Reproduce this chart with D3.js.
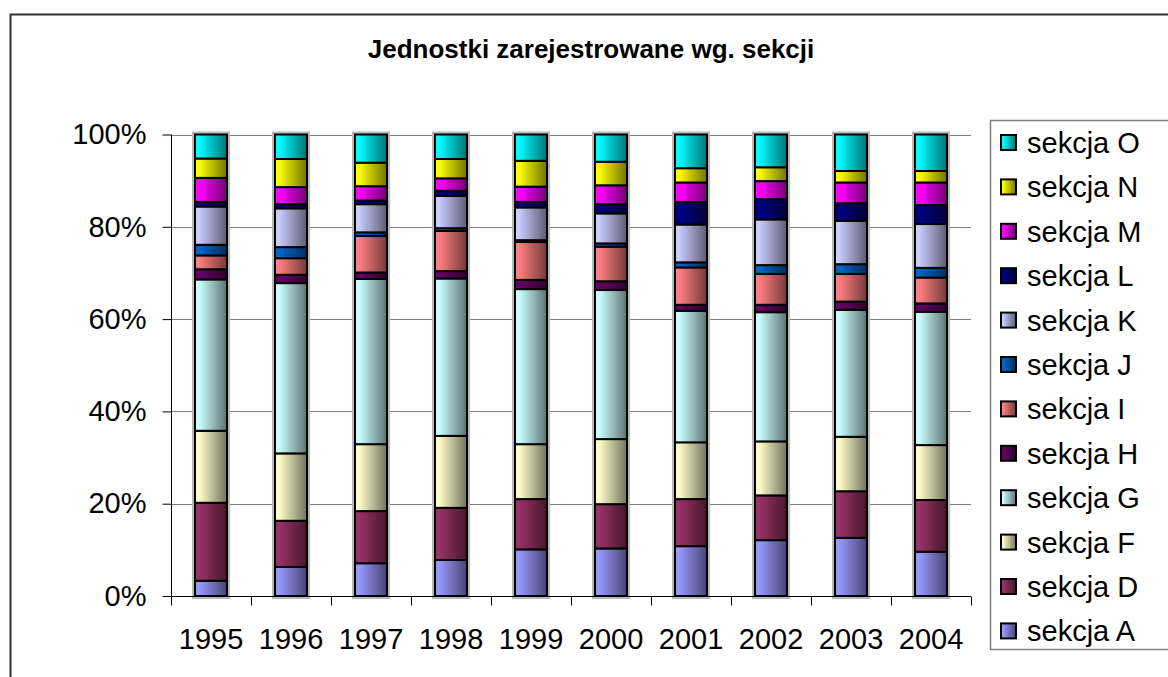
<!DOCTYPE html>
<html>
<head>
<meta charset="utf-8">
<script src="https://cdn.jsdelivr.net/npm/d3@7"></script>
<style>
    body { margin: 0; background: #fff; }
    text { font-family: "Liberation Sans", Arial, sans-serif; }
</style>
</head>
<body>
<div id="chart"></div>
<script>
var years = ["1995", "1996", "1997", "1998", "1999", "2000", "2001", "2002", "2003", "2004"];
var seriesNames = ["sekcja A", "sekcja D", "sekcja F", "sekcja G", "sekcja H", "sekcja I",
    "sekcja J", "sekcja K", "sekcja L", "sekcja M", "sekcja N", "sekcja O"];
var seriesColors = ["#9999FF", "#993366", "#FFFFCC", "#CCFFFF", "#660066", "#FF8080",
    "#0066CC", "#CCCCFF", "#000080", "#FF00FF", "#FFFF00", "#00FFFF"];

// udzialy w %
var sekcjaA = [3.3, 6.3, 7.1, 7.8, 10.1, 10.3, 10.8, 12.1, 12.6, 9.6];
var sekcjaD = [16.9, 10.0, 11.3, 11.3, 10.9, 9.6, 10.2, 9.7, 10.1, 11.2];
var sekcjaF = [15.6, 14.6, 14.5, 15.6, 11.9, 14.1, 12.3, 11.7, 11.8, 11.9];
var sekcjaG = [32.8, 36.9, 35.8, 34.1, 33.6, 32.3, 28.5, 28.0, 27.5, 28.9];
var sekcjaH = [2.2, 1.8, 1.4, 1.6, 2.0, 1.9, 1.3, 1.6, 1.8, 1.8];
var sekcjaI = [3.0, 3.6, 7.9, 8.7, 8.2, 7.5, 8.1, 6.7, 6.0, 5.6];
var sekcjaJ = [2.3, 2.4, 0.8, 0.6, 0.4, 0.7, 1.1, 1.9, 2.1, 2.1];
var sekcjaK = [8.3, 8.4, 6.1, 7.0, 7.1, 6.5, 8.2, 9.9, 9.4, 9.5];
var sekcjaL = [1.0, 0.9, 0.8, 1.1, 1.2, 2.0, 4.9, 4.4, 3.8, 4.1];
var sekcjaM = [5.2, 3.7, 3.1, 2.7, 3.3, 4.1, 4.2, 3.9, 4.5, 4.9];
var sekcjaN = [4.2, 6.1, 5.1, 4.2, 5.6, 5.1, 3.1, 3.0, 2.5, 2.5];
var sekcjaO = [5.2, 5.3, 6.1, 5.3, 5.7, 5.9, 7.3, 7.1, 7.9, 7.9];

var yTicks = [0, 0.2, 0.4, 0.6, 0.8, 1];

var WIDTH = 1168, HEIGHT = 677;
var seriesValues = [sekcjaA, sekcjaD, sekcjaF, sekcjaG, sekcjaH, sekcjaI,
    sekcjaJ, sekcjaK, sekcjaL, sekcjaM, sekcjaN, sekcjaO];

var rows = years.map(function (y, i) {
    var row = { year: y };
    seriesNames.forEach(function (name, s) {
        row[name] = seriesValues[s][i];
    });
    return row;
});

var stacked = d3.stack()
    .keys(seriesNames)
    .offset(d3.stackOffsetExpand)(rows);

var svg = d3.select("#chart").append("svg")
    .attr("width", WIDTH)
    .attr("height", HEIGHT);

// gradienty jak w Excelu (jasno z lewej, ciemno z prawej)
var defs = svg.append("defs");
seriesColors.forEach(function (c, i) {
    var g = defs.append("linearGradient")
        .attr("id", "grad" + i)
        .attr("x1", 0).attr("x2", 1).attr("y1", 0).attr("y2", 0);
    var dark = d3.rgb(c);
    dark = d3.rgb(dark.r * 0.45, dark.g * 0.45, dark.b * 0.45);
    g.append("stop").attr("offset", "0%").attr("stop-color", c);
    g.append("stop").attr("offset", "12%").attr("stop-color", c);
    g.append("stop").attr("offset", "100%").attr("stop-color", dark);
});

// ramka wykresu
svg.append("rect")
    .attr("x", 10.5).attr("y", 14.5)
    .attr("width", 1200).attr("height", 700)
    .attr("fill", "#fff")
    .attr("stroke", "#333")
    .attr("stroke-width", 2);

svg.append("text")
    .attr("x", 591)
    .attr("y", 58)
    .attr("text-anchor", "middle")
    .style("font-size", "26px")
    .style("font-weight", "bold")
    .text("Jednostki zarejestrowane wg. sekcji");

var x = d3.scaleBand()
    .domain(years)
    .range([171, 971])
    .paddingInner(0.6)
    .paddingOuter(0.3);

var y = d3.scaleLinear()
    .domain([0, 1])
    .range([596, 134.5]);

// linie siatki
svg.append("g")
    .selectAll("line")
    .data(yTicks.slice(1))
    .enter().append("line")
    .attr("x1", 171).attr("x2", 971)
    .attr("y1", function (d) { return Math.round(y(d)) + 0.5; })
    .attr("y2", function (d) { return Math.round(y(d)) + 0.5; })
    .attr("stroke", "#808080")
    .attr("stroke-width", 1);

var yAxis = svg.append("g")
    .attr("transform", "translate(171.5,0)")
    .call(d3.axisLeft(y)
        .tickValues(yTicks)
        .tickFormat(d3.format(".0%"))
        .tickSize(9)
        .tickPadding(16));
yAxis.selectAll("text").style("font-size", "29px").attr("fill", "#000");
yAxis.selectAll("line, path").attr("stroke", "#000");
yAxis.select(".domain").attr("d", "M0," + y(1) + "V" + y(0));

// obramowanie slupkow
svg.append("g")
    .selectAll("rect")
    .data(years)
    .enter().append("rect")
    .attr("x", function (d) { return x(d) - 1; })
    .attr("y", y(1) - 1)
    .attr("width", x.bandwidth() + 2)
    .attr("height", y(0) - y(1) + 2)
    .attr("fill", "none")
    .attr("stroke", "#b8b8b8")
    .attr("stroke-width", 4);

var layers = svg.append("g")
    .selectAll("g")
    .data(stacked)
    .enter().append("g")
    .attr("fill", function (d, i) { return "url(#grad" + i + ")"; });

layers.selectAll("rect")
    .data(function (d) { return d; })
    .enter().append("rect")
    .attr("x", function (d) { return x(d.data.year); })
    .attr("y", function (d) { return y(d[1]); })
    .attr("width", x.bandwidth())
    .attr("height", function (d) { return y(d[0]) - y(d[1]); })
    .attr("stroke", "#000")
    .attr("stroke-width", 2);

// os X: etykiety w srodku, kreski na granicach kategorii
var xAxis = svg.append("g")
    .attr("transform", "translate(0,596.5)")
    .call(d3.axisBottom(x).tickSize(0).tickPadding(32));
xAxis.select(".domain").attr("stroke", "#000").attr("d", "M171,0H971");
xAxis.selectAll("text").style("font-size", "29px").attr("fill", "#000");

xAxis.selectAll("line.bound")
    .data(d3.range(years.length + 1))
    .enter().append("line")
    .attr("class", "bound")
    .attr("x1", function (i) { return 171.5 + i * x.step(); })
    .attr("x2", function (i) { return 171.5 + i * x.step(); })
    .attr("y1", 0).attr("y2", 9)
    .attr("stroke", "#000");

// legenda
var legend = svg.append("g");
legend.append("rect")
    .attr("x", 990.5).attr("y", 120.5)
    .attr("width", 200).attr("height", 529)
    .attr("fill", "#fff")
    .attr("stroke", "#808080")
    .attr("stroke-width", 1.5);

var items = legend.selectAll("g.item")
    .data(seriesNames.slice().reverse())
    .enter().append("g")
    .attr("class", "item")
    .attr("transform", function (d, i) { return "translate(0," + (153 + i * 44.4) + ")"; });

items.append("rect")
    .attr("x", 1001).attr("y", -18)
    .attr("width", 15).attr("height", 15)
    .attr("fill", function (d) { return "url(#grad" + seriesNames.indexOf(d) + ")"; })
    .attr("stroke", "#000")
    .attr("stroke-width", 2);

items.append("text")
    .attr("x", 1027)
    .attr("y", 0)
    .style("font-size", "29px")
    .text(function (d) { return d; });
</script>
</body>
</html>
